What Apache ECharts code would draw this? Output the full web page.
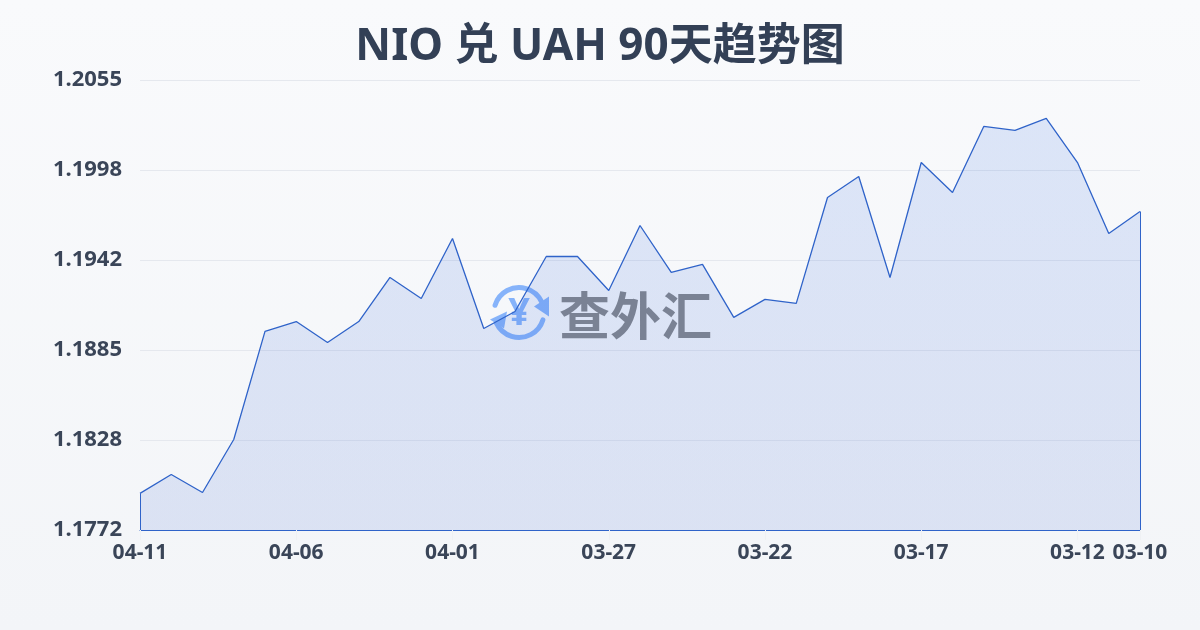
<!DOCTYPE html>
<html><head><meta charset="utf-8">
<style>html,body{margin:0;padding:0;background:#f6f8fb}#c{width:1200px;height:630px}</style>
<script src="https://cdn.jsdelivr.net/npm/echarts@6/dist/echarts.min.js"></script>
</head><body><div id="c"></div>
<script>
const titleText = 'NIO 兑 UAH 90天趋势图';
const dates = ['04-11','04-10','04-09','04-08','04-07','04-06','04-05','04-04','04-03','04-02','04-01','03-31','03-30','03-29','03-28','03-27','03-26','03-25','03-24','03-23','03-22','03-21','03-20','03-19','03-18','03-17','03-16','03-15','03-14','03-13','03-12','03-11','03-10'];
const rates = [1.17950,1.18069,1.17956,1.18289,1.18969,1.19031,1.18899,1.19031,1.19308,1.19176,1.19553,1.18987,1.19094,1.19440,1.19440,1.19226,1.19635,1.19340,1.19390,1.19057,1.19170,1.19145,1.19811,1.19943,1.19308,1.20031,1.19843,1.20258,1.20233,1.20308,1.20031,1.19585,1.19723];
const shownDates = ['04-11','04-06','04-01','03-27','03-22','03-17','03-12','03-10'];
const yTickLabels = ['1.1772','1.1828','1.1885','1.1942','1.1998','1.2055'];
const yMin = 1.1772, yMax = 1.2055, yStep = 0.00566;
const font = '"Noto Sans","Noto Sans CJK SC",sans-serif';
const firstDate = dates[0], lastDate = dates[dates.length-1];
const chart = echarts.init(document.getElementById('c'), null, {renderer:'canvas'});
const logoBlue = '#86b3fa';
chart.setOption({
  animation:false,
  backgroundColor:new echarts.graphic.LinearGradient(0,0,0,1,[{offset:0,color:'#f9fafc'},{offset:1,color:'#f3f5f8'}]),
  title:{text:titleText,left:'center',top:20,textStyle:{fontFamily:font,fontSize:44,fontWeight:'bold',color:'#334056'}},
  grid:{left:140,right:60,top:80,bottom:100},
  xAxis:{type:'category',data:dates,boundaryGap:false,
    axisLine:{show:true,onZero:false,lineStyle:{color:'#2f63c9',width:1}},
    axisTick:{show:true,length:10,interval:(i,v)=>shownDates.includes(v),lineStyle:{color:'#eff1f4'}},
    axisLabel:{interval:(i,v)=>shownDates.includes(v),showMinLabel:true,showMaxLabel:true,hideOverlap:false,margin:13,fontFamily:font,fontSize:21,fontWeight:'bold',color:'#3a4558'},
    splitLine:{show:false}},
  yAxis:{type:'value',min:yMin,max:yMax,interval:yStep,
    axisLine:{show:false},axisTick:{show:false},
    axisLabel:{margin:18,fontFamily:font,fontSize:22,fontWeight:'bold',color:'#3a4558',formatter:(v,i)=>yTickLabels[i]},
    splitLine:{show:true,lineStyle:{color:'#e5e8ee',width:1}}},
  series:[{type:'line',data:rates,symbol:'none',smooth:false,silent:true,
    lineStyle:{color:'#2f63c9',width:1.3},
    areaStyle:{color:new echarts.graphic.LinearGradient(0,0,0,1,[{offset:0,color:'rgba(47,105,225,0.2)'},{offset:1,color:'rgba(47,90,205,0.18)'}])},
    markLine:{silent:true,symbol:'none',label:{show:false},lineStyle:{color:'#2f63c9',width:1,type:'solid'},
      data:[
        [{coord:[firstDate,yMin]},{coord:[firstDate,rates[0]]}],
        [{coord:[lastDate,yMin]},{coord:[lastDate,rates[rates.length-1]]}]
      ]}
  }],
  graphic:[
    {type:'group',left:490,top:285,z:100,silent:true,children:[
      {type:'arc',shape:{cx:29,cy:29,r:25,startAngle:-2.85,endAngle:-0.45},style:{stroke:logoBlue,lineWidth:5,fill:null,lineCap:'round'}},
      {type:'arc',shape:{cx:29,cy:29,r:25,startAngle:0.3,endAngle:2.7},style:{stroke:logoBlue,lineWidth:5,fill:null,lineCap:'round'}},
      {type:'polygon',shape:{points:[[59,13],[59,33],[44,23]]},style:{fill:logoBlue}},
      {type:'polygon',shape:{points:[[0,36],[17,28],[14,45]]},style:{fill:logoBlue}},
      {type:'text',style:{text:'¥',x:29,y:31,align:'center',verticalAlign:'middle',fontFamily:'"Noto Sans",sans-serif',fontWeight:'bold',fontSize:38,fill:logoBlue}}
    ]},
    {type:'text',z:100,silent:true,left:559,top:290,style:{text:'查外汇',fontFamily:'"Noto Sans CJK SC",sans-serif',fontWeight:'bold',fontSize:51,fill:'#7a8294'}}
  ]
});
</script></body></html>
